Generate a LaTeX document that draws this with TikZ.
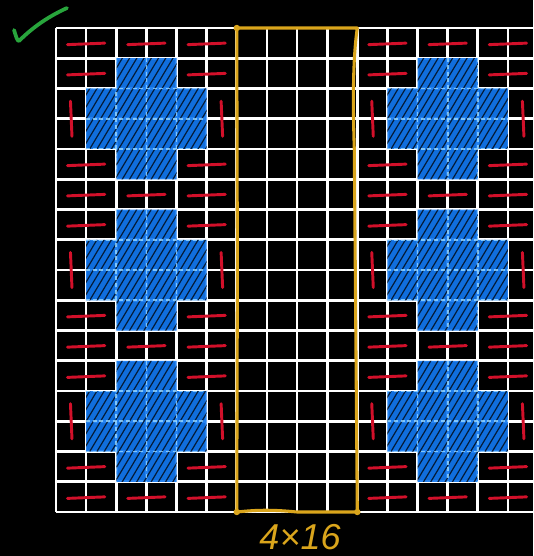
\documentclass[tikz,border=0pt]{standalone}
\usepackage{fontspec}
\setmainfont{Liberation Sans}
\definecolor{crossblue}{RGB}{18,120,240}
\definecolor{dashred}{RGB}{210,16,42}
\definecolor{rectyellow}{RGB}{218,165,28}
\definecolor{checkgreen}{RGB}{40,165,60}
\definecolor{gridinblue}{RGB}{150,215,255}
\tikzset{
  gridline/.style={white,line width=2pt},
  innergrid/.style={gridinblue,line width=1.3pt,dash pattern=on 3pt off 2pt,opacity=0.8},
  reddash/.style={dashred,line width=2.2pt,line cap=round},
  crossfill/.style={fill=crossblue,fill opacity=0.92},
  hatchline/.style={black,line width=0.9pt,opacity=0.75},
  yellowrect/.style={rectyellow,line width=2.3pt,line join=round,line cap=round},
}
\newcommand\crosspath[2]{(#1+1,#2) -- (#1+3,#2) -- (#1+3,#2+1) -- (#1+4,#2+1) -- (#1+4,#2+3) -- (#1+3,#2+3) -- (#1+3,#2+4) -- (#1+1,#2+4) -- (#1+1,#2+3) -- (#1,#2+3) -- (#1,#2+1) -- (#1+1,#2+1) -- cycle}
\newcommand\drawcross[2]{%
  \fill[crossfill] \crosspath{#1}{#2};
  \begin{scope}
    \clip \crosspath{#1}{#2};
    \foreach \i in {0,...,34} {\draw[hatchline] (#1-3+\i*0.24,#2+4.2) -- ++(2.7,-4.5);}
    \foreach \j in {1,2,3} {\draw[innergrid] (#1+\j,#2) -- (#1+\j,#2+4);}
    \foreach \j in {1,2,3} {\draw[innergrid] (#1,#2+\j) -- (#1+4,#2+\j);}
  \end{scope}}
\newcommand\hdomino[2]{\draw[reddash] (#1+0.38,#2+0.55) -- (#1+1.62,#2+0.5);}
\newcommand\vdomino[2]{\draw[reddash] (#1+0.48,#2+0.42) -- (#1+0.53,#2+1.58);}
\begin{document}
\begin{tikzpicture}[x=0.75pt,y=-0.75pt]
\fill[black] (0,0) rectangle (533,556);
\useasboundingbox (0,0) rectangle (533,556);
\begin{scope}[shift={(56,28)},x=22.5975pt,y=-22.6875pt]
  % grid
  \foreach \k in {0,...,15} {\draw[gridline] (\k,0) -- (\k,16);}
  \foreach \k in {0,...,16} {\draw[gridline] (0,\k) -- (15.83,\k);}
  % crosses
  \foreach \r in {1,6,11} {\drawcross{1}{\r}\drawcross{11}{\r}}
  % red dominoes
  \foreach \r in {0,5,10,15} {\hdomino{0}{\r}\hdomino{2}{\r}\hdomino{4}{\r}\hdomino{10}{\r}\hdomino{12}{\r}\hdomino{14}{\r}}
  \foreach \r in {1,4,6,9,11,14} {\hdomino{0}{\r}\hdomino{4}{\r}\hdomino{10}{\r}\hdomino{14}{\r}}
  \foreach \r in {2,7,12} {\vdomino{0}{\r}\vdomino{5}{\r}\vdomino{10}{\r}\vdomino{15}{\r}}
  % yellow 4x16 strip
  \draw[yellowrect] (6,0) -- (10,0) .. controls (9.85,1) and (9.85,2.5) .. (9.9,4) -- (9.95,10) -- (10,16)
    -- (8,16) .. controls (7,15.9) and (6.5,15.95) .. (6,16) -- (6.02,8) -- cycle;
  \fill[rectyellow] (6,0) circle (2.4pt) (10,16) circle (2.4pt) (6,16) circle (2.4pt);
\end{scope}
% check mark
\draw[checkgreen,line width=2.8pt,line cap=round,line join=round]
  (14,30) .. controls (16,36) and (17,41) .. (19,41) .. controls (30,30) and (45,18) .. (67,8);
\node[text=rectyellow,font=\fontsize{27}{27}\selectfont\itshape] (label) at (300,537) {4×16};
\end{tikzpicture}
\end{document}
